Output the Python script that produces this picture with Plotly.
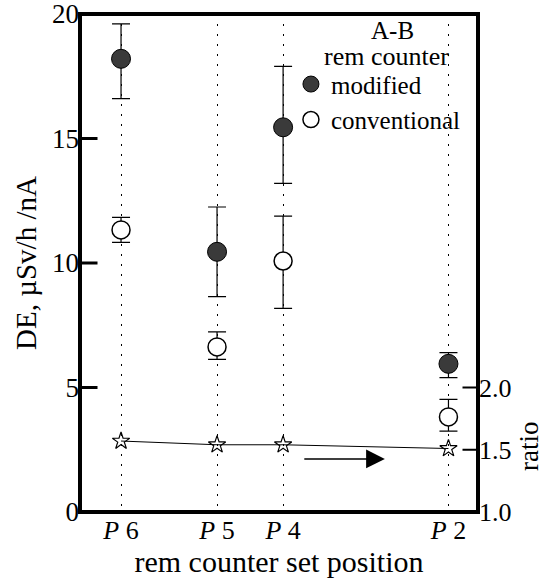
import plotly.graph_objects as go

# ---- data ----
positions = ["<i>P</i> 6", "<i>P</i> 5", "<i>P</i> 4", "<i>P</i> 2"]
x_pos = [1.0, 3.34, 4.95, 8.98]          # set positions along the axis
modified = [18.2, 10.45, 15.45, 5.95]
modified_err_plus = [1.4, 1.8, 2.45, 0.45]
modified_err_minus = [1.6, 1.8, 2.25, 0.55]
conventional = [11.33, 6.63, 10.08, 3.82]
conventional_err_plus = [0.5, 0.6, 1.8, 0.7]
conventional_err_minus = [0.5, 0.5, 1.9, 0.57]
ratio = [1.57, 1.54, 1.54, 1.51]
de_ticks = [0, 5, 10, 15, 20]
ratio_ticks = [1.0, 1.5, 2.0]
ratio_ticklabels = ["1.0", "1.5", "2.0"]

FONT = "Liberation Serif"
DE_RANGE = [0, 20]
RATIO_RANGE = [1.0, 5.0]

fig = go.Figure()

fig.add_trace(go.Scatter(
    x=x_pos, y=modified, mode="markers", name="modified",
    marker=dict(symbol="circle", size=19, color="#3a3a3a",
                line=dict(color="black", width=1)),
    error_y=dict(type="data", symmetric=False, array=modified_err_plus,
                 arrayminus=modified_err_minus, color="black",
                 thickness=1.2, width=9),
))
fig.add_trace(go.Scatter(
    x=x_pos, y=conventional, mode="markers", name="conventional",
    marker=dict(symbol="circle", size=18, color="white",
                line=dict(color="black", width=1.5)),
    error_y=dict(type="data", symmetric=False, array=conventional_err_plus,
                 arrayminus=conventional_err_minus, color="black",
                 thickness=1.2, width=9),
))
fig.add_trace(go.Scatter(
    x=x_pos, y=ratio, mode="lines+markers", name="ratio", yaxis="y2",
    showlegend=False,
    line=dict(color="black", width=1),
    marker=dict(symbol="star-open", size=13, color="black",
                line=dict(color="black", width=1.2)),
))

# frame
shapes = [dict(type="rect", xref="paper", yref="paper", x0=0, x1=1, y0=0, y1=1,
               line=dict(color="black", width=4), fillcolor="rgba(0,0,0,0)",
               layer="above")]

annotations = [
    dict(text="A-B", xref="paper", yref="paper", x=(392 - 80) / 398,
         y=1 - (31 - 14) / 498, showarrow=False,
         xanchor="center", yanchor="middle", font=dict(size=25, family=FONT)),
    dict(text="rem counter", xref="paper", yref="paper",
         x=(386 - 80) / 398, y=1 - (57 - 14) / 498, showarrow=False,
         xanchor="center", yanchor="middle", font=dict(size=26, family=FONT)),
    dict(text="ratio", xref="paper", yref="paper", x=(529 - 80) / 398,
         y=1 - (447 - 14) / 498, showarrow=False, textangle=-90,
         xanchor="center", yanchor="middle", font=dict(size=27, family=FONT)),
    dict(x=7.43, y=2.13, ax=5.43, ay=2.13, xref="x", yref="y",
         axref="x", ayref="y", text="", showarrow=True,
         arrowhead=2, arrowsize=2.5, arrowwidth=1.5, arrowcolor="black"),
]
# inward tick marks drawn as headless arrows
for t in de_ticks[1:-1]:
    annotations.append(dict(x=0, y=t, xref="paper", yref="y", text="",
                            showarrow=True, arrowhead=0, arrowwidth=3,
                            arrowcolor="black", ax=19, ay=0, standoff=0,
                            startstandoff=0))
for t in ratio_ticks[1:]:
    annotations.append(dict(x=1, y=t, xref="paper", yref="y2", text="",
                            showarrow=True, arrowhead=0, arrowwidth=2,
                            arrowcolor="black", ax=-17, ay=0, standoff=0,
                            startstandoff=0))

fig.update_layout(
    width=547, height=585,
    margin=dict(l=80, r=69, t=14, b=73, autoexpand=False),
    paper_bgcolor="white", plot_bgcolor="rgba(0,0,0,0)",
    font=dict(family=FONT, color="black", size=25),
    showlegend=True,
    legend=dict(x=0.53, y=0.905, xanchor="left", yanchor="top",
                bgcolor="rgba(0,0,0,0)", font=dict(size=25, family=FONT),
                itemwidth=30, borderwidth=0),
    xaxis=dict(
        range=[0, 9.7], tickmode="array", tickvals=x_pos, ticktext=positions,
        ticks="", showgrid=True, gridcolor="black", gridwidth=1,
        griddash="2px,8px", zeroline=False, automargin=False,
        showline=False,
        tickfont=dict(size=26, family=FONT),
        title=dict(text="rem counter set position",
                   font=dict(size=30, family=FONT), standoff=4),
    ),
    yaxis=dict(
        range=DE_RANGE, tickmode="array", tickvals=de_ticks,
        ticks="", showgrid=False, zeroline=False, automargin=False,
        ticklabeloverflow="allow", showline=False,
        tickfont=dict(size=27, family=FONT),
        title=dict(text="DE, µSv/h /nA", font=dict(size=29, family=FONT),
                   standoff=6),
    ),
    yaxis2=dict(
        range=RATIO_RANGE, overlaying="y", side="right", anchor="x",
        tickmode="array", tickvals=ratio_ticks, ticktext=ratio_ticklabels,
        ticks="", showgrid=False, zeroline=False, showline=False,
        automargin=False, ticklabeloverflow="allow",
        tickfont=dict(size=26, family=FONT),
    ),
    shapes=shapes,
    annotations=annotations,
)

fig.write_html("out.html")
